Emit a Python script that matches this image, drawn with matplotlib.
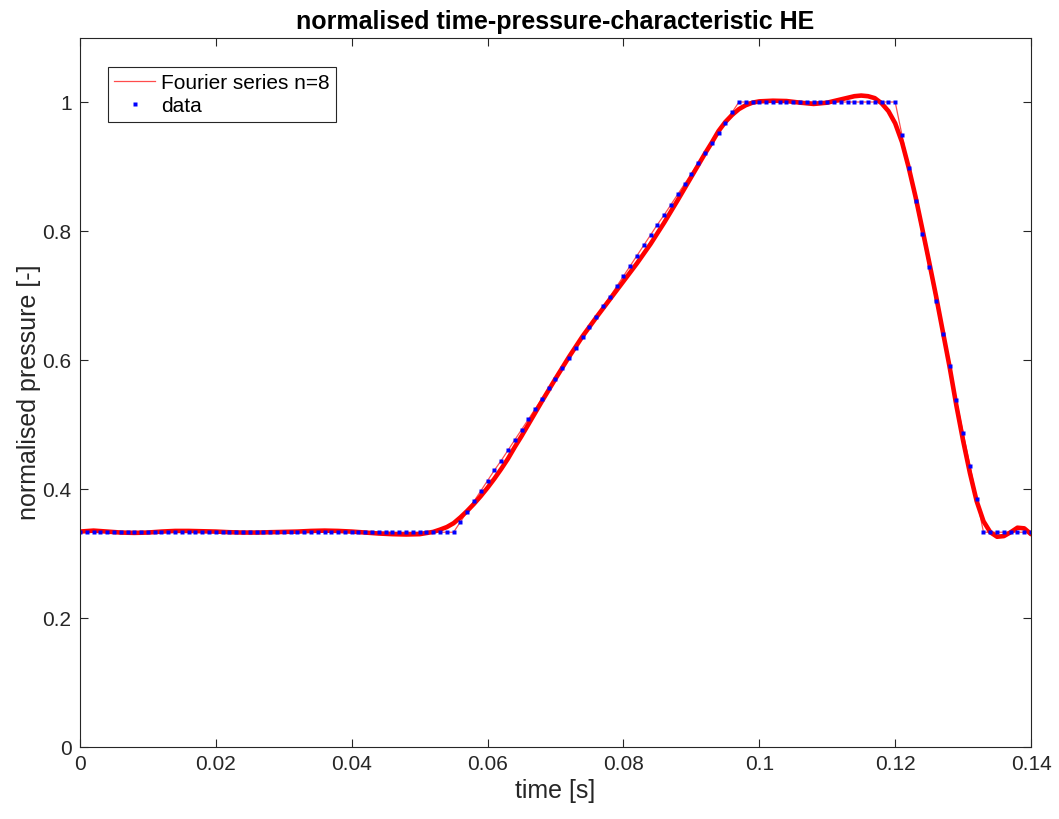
import matplotlib
matplotlib.use("Agg")
import matplotlib.pyplot as plt

plt.rcParams['font.family'] = ['Liberation Sans', 'DejaVu Sans']

# measured samples, one every 1 ms
t_ms = list(range(141))
pressure = ([0.333] * 56 +
            [0.349, 0.365, 0.381, 0.397, 0.413, 0.429, 0.444, 0.460, 0.476,
             0.492, 0.508, 0.524, 0.540, 0.556, 0.571, 0.587, 0.603, 0.619,
             0.635, 0.651, 0.667, 0.683, 0.698, 0.714, 0.730, 0.746, 0.762,
             0.778, 0.794, 0.810, 0.825, 0.841, 0.857, 0.873, 0.889, 0.905,
             0.921, 0.937, 0.952, 0.968, 0.984, 1.000] +
            [1.000] * 23 +
            [0.949, 0.897, 0.846, 0.795, 0.744, 0.692, 0.641, 0.590, 0.538,
             0.487, 0.436, 0.385, 0.333] +
            [0.333] * 7)
t_data = [v / 1000 for v in t_ms]

# fourier fit curve
fit_t = [0.000, 0.002, 0.004, 0.006, 0.008, 0.010, 0.012, 0.014, 0.016, 0.018,
         0.020, 0.022, 0.024, 0.026, 0.028, 0.030, 0.032, 0.034, 0.036, 0.038,
         0.040, 0.042, 0.044, 0.046, 0.048, 0.050, 0.052, 0.053, 0.054, 0.055,
         0.056, 0.057, 0.058, 0.059, 0.060, 0.061, 0.062, 0.063, 0.064, 0.065,
         0.066, 0.068, 0.070, 0.072, 0.074, 0.076, 0.078, 0.080, 0.082, 0.084,
         0.086, 0.088, 0.090, 0.092, 0.093, 0.094, 0.095, 0.096, 0.097, 0.098,
         0.099, 0.100, 0.102, 0.104, 0.106, 0.108, 0.110, 0.112, 0.114, 0.115,
         0.116, 0.117, 0.118, 0.119, 0.120, 0.121, 0.122, 0.123, 0.124, 0.125,
         0.126, 0.127, 0.128, 0.129, 0.130, 0.131, 0.132, 0.133, 0.134, 0.135,
         0.136, 0.137, 0.138, 0.139, 0.140]
fit_p = [0.334, 0.3355, 0.334, 0.3325, 0.332, 0.3325, 0.334, 0.335, 0.335, 0.3345,
         0.334, 0.333, 0.3325, 0.3325, 0.333, 0.3335, 0.334, 0.335, 0.3355, 0.335,
         0.334, 0.3325, 0.331, 0.330, 0.3295, 0.330, 0.3335, 0.337, 0.341, 0.347,
         0.356, 0.366, 0.377, 0.389, 0.402, 0.416, 0.431, 0.447, 0.465, 0.482,
         0.500, 0.536, 0.571, 0.605, 0.637, 0.666, 0.694, 0.722, 0.750, 0.780,
         0.813, 0.848, 0.884, 0.920, 0.937, 0.955, 0.969, 0.980, 0.989, 0.995,
         0.999, 1.001, 1.002, 1.0015, 0.999, 0.997, 0.999, 1.004, 1.009, 1.010,
         1.009, 1.006, 0.998, 0.986, 0.967, 0.938, 0.898, 0.853, 0.803, 0.752,
         0.700, 0.645, 0.590, 0.530, 0.475, 0.425, 0.381, 0.350, 0.333, 0.326,
         0.327, 0.333, 0.340, 0.339, 0.330]

xticks = [0, 0.02, 0.04, 0.06, 0.08, 0.1, 0.12, 0.14]
xticklabels = ['0', '0.02', '0.04', '0.06', '0.08', '0.1', '0.12', '0.14']
yticks = [0, 0.2, 0.4, 0.6, 0.8, 1]
yticklabels = ['0', '0.2', '0.4', '0.6', '0.8', '1']

fig = plt.figure(figsize=(10.59, 8.19), dpi=100)
ax = fig.add_axes([0.0755, 0.0879, 0.8981, 0.8663])

ax.plot(t_data, pressure, color='red', lw=0.9, alpha=0.7, label='Fourier series n=8')
ax.plot(fit_t, fit_p, color='red', lw=3.3, solid_capstyle='round',
        solid_joinstyle='round')
ax.plot(t_data, pressure, ls='none', marker='s', ms=2.2, mec='none', mfc='#0000ff',
        label='data')

ax.set_xlim(0, 0.14)
ax.set_ylim(0, 1.1)
ax.set_xticks(xticks)
ax.set_xticklabels(xticklabels)
ax.set_yticks(yticks)
ax.set_yticklabels(yticklabels)
ax.tick_params(direction='in', top=True, right=True, length=6, width=0.8,
               labelsize=15, colors='#262626', pad=6)
for s in ax.spines.values():
    s.set_color('#262626')
    s.set_linewidth(0.8)

ax.set_xlabel('time [s]', fontsize=18, color='#262626', labelpad=3)
ax.set_ylabel('normalised pressure [-]', fontsize=18, color='#262626', labelpad=1)
ax.set_title('normalised time-pressure-characteristic HE', fontsize=18,
             fontweight='bold', pad=6)

leg = ax.legend(loc='upper left', bbox_to_anchor=(0.029, 0.958), fontsize=15,
                fancybox=False, framealpha=1, edgecolor='#262626',
                borderpad=0.3, handlelength=2.0, handletextpad=0.25,
                labelspacing=0.2, borderaxespad=0)
leg.get_frame().set_linewidth(0.8)

fig.savefig('out.png', dpi=100)
